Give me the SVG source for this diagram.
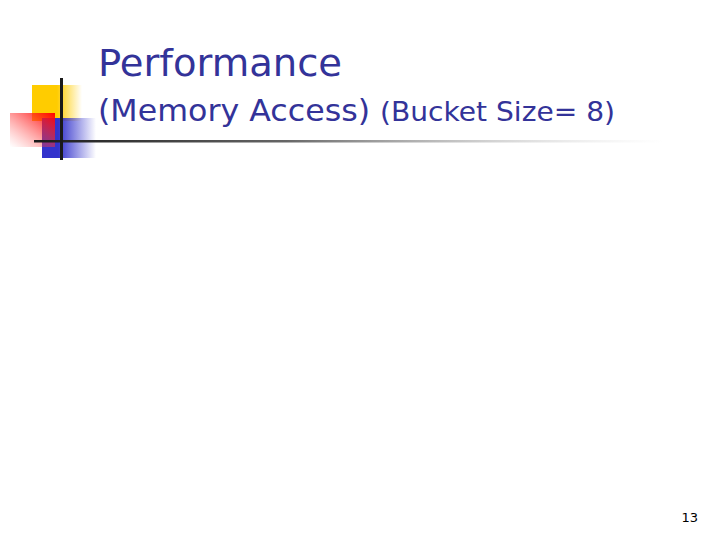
<svg xmlns="http://www.w3.org/2000/svg" width="720" height="540" viewBox="0 0 720 540">
<defs>
<linearGradient id="y" x1="0" x2="1"><stop offset="0.5" stop-color="#FFCC00"/><stop offset="1" stop-color="#FFCC00" stop-opacity="0"/></linearGradient>
<linearGradient id="b" x1="0" x2="1"><stop offset="0.3" stop-color="#3333CC"/><stop offset="1" stop-color="#3333CC" stop-opacity="0"/></linearGradient>
<linearGradient id="r" x1="1" x2="0" y1="0" y2="1"><stop offset="0" stop-color="#FF0000"/><stop offset="1" stop-color="#FF6666" stop-opacity="0"/></linearGradient>
<linearGradient id="l" x1="0" x2="1"><stop offset="0" stop-color="#1a1a1a"/><stop offset="0.4" stop-color="#666"/><stop offset="1" stop-color="#ccc" stop-opacity="0"/></linearGradient>
</defs>
<style>.t{font-family:"DejaVu Sans",Verdana,sans-serif;fill:#333399}</style>
<rect width="720" height="540" fill="#fff"/>
<g id="logo">
<rect x="32" y="85" width="50" height="36" fill="url(#y)"/>
<rect x="42" y="118" width="54" height="40" fill="url(#b)"/>
<rect x="10" y="113" width="45" height="34" fill="url(#r)"/>
<rect x="34" y="140" width="630" height="2.5" fill="url(#l)"/>
<rect x="60" y="78" width="3" height="82" fill="#1a1a1a"/>
</g>
<text class="t" x="98" y="76" font-size="38" textLength="244" lengthAdjust="spacingAndGlyphs">Performance</text>
<text class="t" x="98" y="121" font-size="31" textLength="272" lengthAdjust="spacingAndGlyphs">(Memory Access)</text>
<text class="t" x="380" y="121" font-size="27" textLength="235" lengthAdjust="spacingAndGlyphs">(Bucket Size= 8)</text>
<text x="698" y="522" font-size="13" text-anchor="end" font-family="DejaVu Sans,sans-serif" fill="#000">13</text>
</svg>
